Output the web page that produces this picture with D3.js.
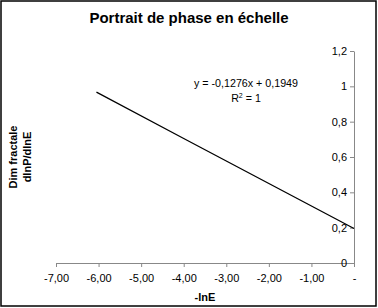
<!DOCTYPE html>
<html>
<head>
<meta charset="utf-8">
<script src="https://cdn.jsdelivr.net/npm/d3@7"></script>
<style>
  body { margin: 0; background: #fff; }
  svg { display: block; font-family: "Liberation Sans", Arial, sans-serif; }
</style>
</head>
<body>
<svg id="chart" width="378" height="308"></svg>
<script>
// values
const lineX = [-6.05, -4, -2, 0];
const lineY = [0.967, 0.705, 0.450, 0.195];
const xTicks = [-7, -6, -5, -4, -3, -2, -1, 0];
const yTicks = [0, 0.2, 0.4, 0.6, 0.8, 1, 1.2];
const equation = 'y = -0,1276x + 0,1949';

const svg = d3.select('#chart');

// outer frame
svg.append('rect')
  .attr('x', 1).attr('y', 1).attr('width', 375).attr('height', 305)
  .attr('fill', '#fff').attr('stroke', '#000').attr('stroke-width', 1.5);

const x = d3.scaleLinear().domain([-7, 0]).range([56, 354]);
const y = d3.scaleLinear().domain([0, 1.2]).range([263, 51]);

const fmtX = d => d === 0 ? '-' : d3.format('.2f')(d).replace('.', ',').replace('−', '-');
const fmtY = d => String(d).replace('.', ',');

// x axis
const gx = svg.append('g').attr('transform', `translate(0,${y(0)})`)
  .call(d3.axisBottom(x).tickValues(xTicks).tickFormat(fmtX).tickSize(4).tickSizeOuter(0));
gx.select('.domain').attr('stroke', '#888');
gx.selectAll('.tick line').attr('stroke', '#888');
gx.selectAll('.tick text').attr('font-size', 11).attr('fill', '#000').attr('dy', '1.1em');

// y axis, on the right edge with ticks to the left
const gy = svg.append('g').attr('transform', `translate(${x(0)},0)`)
  .call(d3.axisLeft(y).tickValues(yTicks).tickFormat(fmtY).tickSize(4).tickSizeOuter(0));
gy.select('.domain').attr('stroke', '#888');
gy.selectAll('.tick line').attr('stroke', '#888');
gy.selectAll('.tick text').attr('font-size', 11).attr('fill', '#000').attr('x', -7);

// trend line
const line = d3.line().x((d, i) => x(lineX[i])).y(d => y(d));
svg.append('path')
  .datum(lineY)
  .attr('d', line)
  .attr('fill', 'none')
  .attr('stroke', '#000')
  .attr('stroke-width', 1.3);

// title
svg.append('text')
  .attr('x', 189).attr('y', 23)
  .attr('text-anchor', 'middle')
  .attr('font-size', 15).attr('font-weight', 'bold')
  .text('Portrait de phase en échelle');

// equation + R²
svg.append('text')
  .attr('x', 246).attr('y', 87)
  .attr('text-anchor', 'middle').attr('font-size', 10.7)
  .text(equation);
const r2 = svg.append('text')
  .attr('x', 246).attr('y', 102)
  .attr('text-anchor', 'middle').attr('font-size', 10.7);
r2.append('tspan').text('R');
r2.append('tspan').attr('font-size', 7).attr('dy', -4).text('2');
r2.append('tspan').attr('dy', 4).text(' = 1');

// axis titles
svg.append('text')
  .attr('x', 205).attr('y', 301)
  .attr('text-anchor', 'middle')
  .attr('font-size', 11).attr('font-weight', 'bold')
  .text('-lnE');

const yt = svg.append('text')
  .attr('transform', 'translate(17,157) rotate(-90)')
  .attr('text-anchor', 'middle')
  .attr('font-size', 11).attr('font-weight', 'bold');
yt.append('tspan').attr('x', 0).attr('dy', 0).text('Dim fractale');
yt.append('tspan').attr('x', 0).attr('dy', 14).text('dlnP/dlnE');
</script>
</body>
</html>
